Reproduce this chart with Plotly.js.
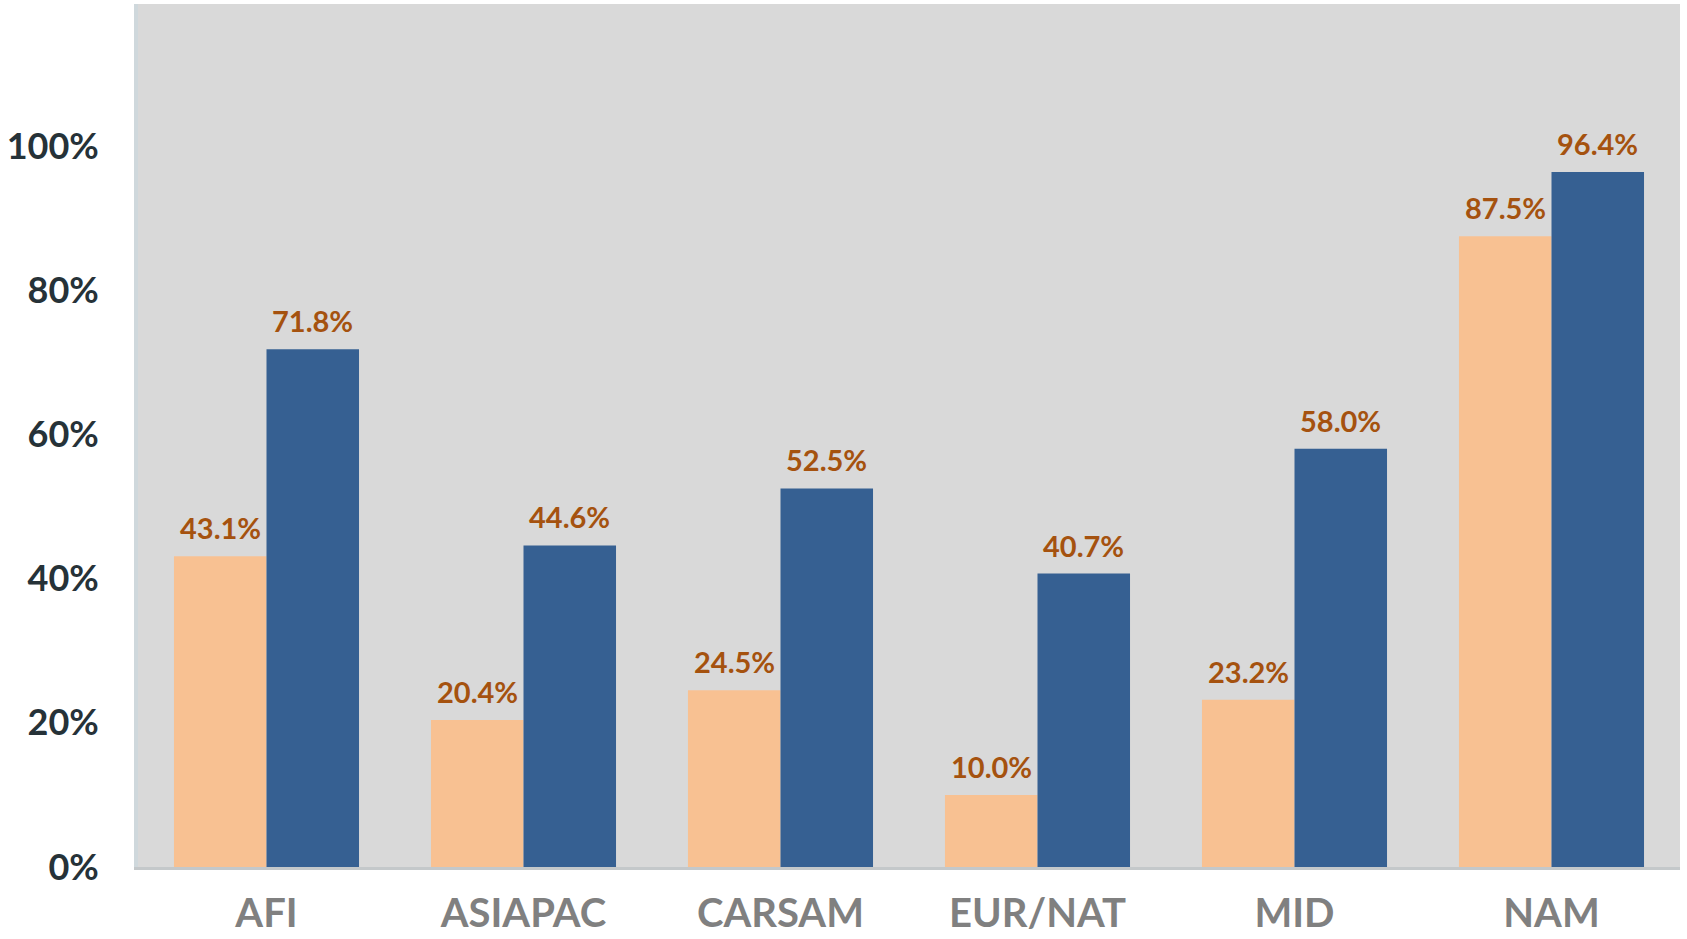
<!DOCTYPE html>
<html>
<head>
<meta charset="utf-8">
<script src="https://cdn.plot.ly/plotly-3.0.1.min.js"></script>
<style>html,body{margin:0;padding:0;background:#fff;}#chart{width:1687px;height:939px;}</style>
</head>
<body>
<div id="chart"></div>
<script>
const categories = ["AFI", "ASIAPAC", "CARSAM", "EUR/NAT", "MID", "NAM"];
const seriesA = [43.1, 20.4, 24.5, 10.0, 23.2, 87.5];
const seriesB = [71.8, 44.6, 52.5, 40.7, 58.0, 96.4];
const yTickVals = [0, 20, 40, 60, 80, 100];
const yTickText = ["0%", "20%", "40%", "60%", "80%", "100%"];

const W = 1687, H = 939;
const M = {l: 138, r: 7, t: 4, b: 72};
const BARGAP = 0.28;
const labelFont = {family: "Lato, 'Open Sans', sans-serif", size: 29, color: "#A5520F", weight: "bold"};

const traces = [
  {type: "bar", name: "A", x: categories, y: seriesA, marker: {color: "#F8C192"}, hoverinfo: "skip"},
  {type: "bar", name: "B", x: categories, y: seriesB, marker: {color: "#366092"}, hoverinfo: "skip"}
];

// data labels placed at each bar top via the axes, shifted to each bar's centre in the group
const plotW = W - M.l - M.r;
const barHalfOffset = (plotW / categories.length) * (1 - BARGAP) / 4;
const annotations = [];
[[seriesA, -1], [seriesB, 1]].forEach(([vals, side]) => {
  vals.forEach((v, i) => {
    annotations.push({
      x: categories[i], y: v, xref: "x", yref: "y",
      text: v.toFixed(1) + "%", showarrow: false,
      xanchor: "center", yanchor: "bottom",
      xshift: side * barHalfOffset, yshift: 9,
      font: labelFont
    });
  });
});

const layout = {
  width: W, height: H,
  margin: M,
  paper_bgcolor: "#FFFFFF",
  plot_bgcolor: "#D9D9D9",
  showlegend: false,
  barmode: "group",
  bargap: BARGAP,
  bargroupgap: 0,
  annotations: annotations,
  xaxis: {
    type: "category",
    showgrid: false, zeroline: false,
    showline: true, linecolor: "#C4C8CA", linewidth: 3,
    ticks: "", ticklabelstandoff: 9,
    tickfont: {family: "Lato, 'Open Sans', sans-serif", size: 40, color: "#808080", weight: "bold"}
  },
  yaxis: {
    range: [0, 119.7],
    showgrid: false, zeroline: false,
    showline: true, linecolor: "#CFD8DC", linewidth: 4,
    tickvals: yTickVals, ticktext: yTickText,
    ticks: "", ticklabelstandoff: 28,
    tickfont: {family: "Lato, 'Open Sans', sans-serif", size: 36, color: "#263238", weight: "bold"}
  }
};

Plotly.newPlot("chart", traces, layout, {displayModeBar: false, staticPlot: true});
</script>
</body>
</html>
